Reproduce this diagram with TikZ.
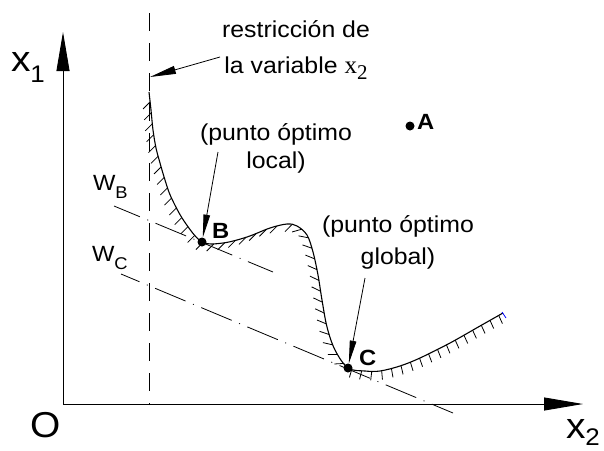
\documentclass[tikz,border=0pt]{standalone}
\usepackage{fontspec}
\setmainfont{Liberation Sans}[FakeStretch=1.08]
\newfontfamily\serifx{Liberation Serif}
\usetikzlibrary{arrows.meta,decorations.markings}
\begin{document}
\begin{tikzpicture}[x=1pt,y=-1pt,
  every node/.style={inner sep=0pt, outer sep=0pt},
  axisline/.style={line width=0.9pt, -{Triangle[length=39pt,width=13pt]}},
  limitline/.style={line width=0.9pt, dash pattern=on 18pt off 12pt},
  wline/.style={line width=0.8pt, dash pattern=on 33pt off 8pt on 1pt off 8pt},
  curveline/.style={line width=1.1pt},
  hatchline/.style={line width=0.8pt},
  pointer/.style={line width=0.8pt, -{Triangle[length=23pt,width=6.5pt]}},
  limitarrow/.style={line width=0.8pt, -{Triangle[length=26pt,width=8pt]}},
  dot/.style={circle, fill=black, minimum size=9pt},
  lbl/.style={align=center},
  ptlbl/.style={font=\fontsize{22}{22}\selectfont\bfseries},
  axlbl/.style={font=\fontsize{36}{36}\selectfont},
  hatchG/.style={decoration={markings, mark=between positions 10pt and -3pt step 11pt with {\pgftransformresetnontranslations\draw[hatchline] (0,0) -- (225:10pt);}}, postaction={decorate}},
  hatchC/.style={decoration={markings, mark=between positions 5pt and -3pt step 11pt with {\draw[hatchline] (0,0) -- (-125:10pt);}}, postaction={decorate}},
  hatchD/.style={decoration={markings, mark=between positions 4pt and -1pt step 10pt with {\draw[hatchline] (0,0) -- (-95:9pt);}}, postaction={decorate}},
]
\useasboundingbox (0,0) rectangle (604,450);

% axes
\coordinate (o) at (63,404);
\coordinate (xend) at (583,404);
\coordinate (yend) at (63,32);
\draw[axisline] (o) -- (xend);
\draw[axisline] (o) -- (yend);

% variable limit (dashed)
\coordinate (dtop) at (149,13);
\coordinate (dbot) at (149,404);
\draw[limitline] (dtop) -- (dbot);

% objective lines
\coordinate (wb1) at (114,206);
\coordinate (wb2) at (273,272);
\coordinate (wc1) at (121,274);
\coordinate (wc2) at (453,413);
\draw[wline, dash phase=5pt] (wb1) -- (wb2);
\draw[wline, dash phase=13pt] (wc1) -- (wc2);

% constraint curve
\draw[curveline] plot[smooth, tension=0.55] coordinates {(149,92) (151,110) (153,130) (156,148) (160,163) (165,180) (171,197) (184,221) (202,242) (223,243) (247,237) (270,228) (287,224) (297,226) (307,235) (313,252) (318,275) (322,300) (327,327) (335,350) (348,368) (365,371) (380,371) (400,366) (420,358) (450,343) (480,326) (503,313)};
% hatching
\path[hatchG] plot[smooth, tension=0.55] coordinates {(149,92) (151,110) (153,130) (156,148) (160,163) (165,180) (171,197) (184,221) (202,242) (223,243) (247,237) (270,228) (287,224)};
\path[hatchC] plot[smooth, tension=0.55] coordinates {(287,224) (297,226) (307,235) (313,252) (318,275) (322,300) (327,327) (335,350) (348,368)};
\path[hatchD] plot[smooth, tension=0.55] coordinates {(348,368) (365,371) (380,371) (400,366) (420,358) (450,343) (480,326) (503,313)};
\coordinate (bt1) at (502,312);
\coordinate (bt2) at (506,318);
\draw[blue, line width=0.8pt] (bt1) -- (bt2);

% points
\node[dot] (A) at (410,126) {};
\node[dot] (B) at (202,242) {};
\node[dot] (C) at (348,368) {};
\node[ptlbl, anchor=base west] (lA) at (417,129) {A};
\node[ptlbl, anchor=base west] (lB) at (212,238) {B};
\node[ptlbl, anchor=base west] (lC) at (359,365) {C};

% labels (anchor=base is the baseline of the last line)
\node[lbl, anchor=base, font=\fontsize{23}{36}\selectfont] (lim) at (296,73) {restricción de\\la variable {\serifx\fontsize{25}{25}\selectfont x\raisebox{-6pt}{\fontsize{21}{21}\selectfont 2}}};
\node[lbl, anchor=base, font=\fontsize{23}{28}\selectfont] (loc) at (276,168) {(punto óptimo\\local)};
\node[lbl, anchor=base, font=\fontsize{23}{32}\selectfont] (glo) at (398,264) {(punto óptimo\\global)};

\node[font=\fontsize{22}{22}\selectfont, anchor=base west] (wB) at (93,190) {W\raisebox{-8pt}{\fontsize{17}{17}\selectfont B}};
\node[font=\fontsize{22}{22}\selectfont, anchor=base west] (wC) at (92,261) {W\raisebox{-8pt}{\fontsize{17}{17}\selectfont C}};

\node[axlbl, anchor=base west] (x1) at (11,71) {x\raisebox{-11pt}{\fontsize{24}{24}\selectfont 1}};
\node[axlbl, anchor=base west] (x2) at (566,438) {x\raisebox{-7pt}{\fontsize{24}{24}\selectfont 2}};
\node[axlbl, anchor=base west] (O) at (30,437) {O};

% pointers
\coordinate (pb) at (218,152);
\coordinate (pc) at (365,278);
\coordinate (pl) at (220,57);
\coordinate (plt) at (150,77);
\draw[pointer] (pb) -- (B);
\draw[pointer] (pc) -- (C);
\draw[limitarrow] (pl) -- (plt);
\end{tikzpicture}
\end{document}
